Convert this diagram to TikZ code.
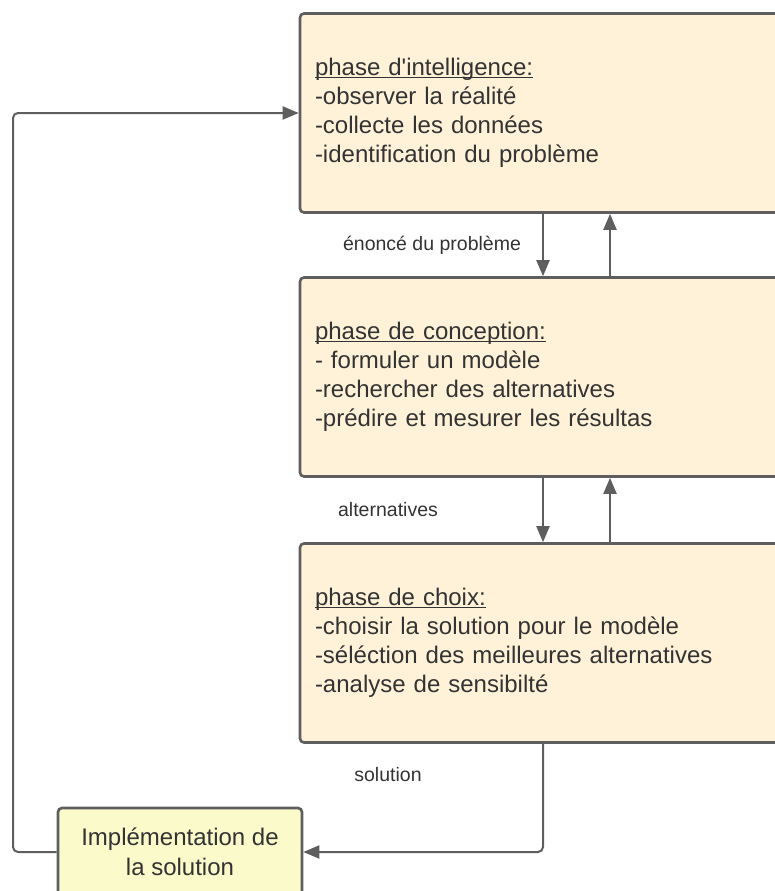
\documentclass[tikz,border=0pt]{standalone}
\usepackage{fontspec}
\setmainfont{Liberation Sans}
\usetikzlibrary{arrows.meta}

\definecolor{phasefill}{RGB}{255,242,217}
\definecolor{implfill}{RGB}{250,250,202}
\definecolor{trait}{RGB}{94,94,94}
\definecolor{texte}{RGB}{51,51,51}

\newsavebox{\titrebox}
\newcommand{\souligne}[1]{\sbox{\titrebox}{#1}\rlap{\rule[-2.5pt]{\wd\titrebox}{1.1pt}}\usebox{\titrebox}}

\begin{document}
\begin{tikzpicture}[x=1pt,y=-1pt,
    phase/.style={draw=trait,fill=phasefill,line width=2.6pt,rounded corners=4pt,
      text=texte,font=\fontsize{24}{29}\selectfont,align=left,
      text width=470pt,inner xsep=15pt,minimum height=199pt},
    impl/.style={draw=trait,fill=implfill,line width=2.6pt,rounded corners=4pt,
      text=texte,font=\fontsize{24}{30}\selectfont,align=center,
      minimum width=244pt,minimum height=88pt},
    etiquette/.style={text=texte,font=\fontsize{19.5}{23}\selectfont,inner sep=0pt},
    fleche/.style={draw=trait,line width=2pt,-{Triangle[length=16pt,width=13pt]}}]

      \useasboundingbox (0,0) rectangle (775,891);

      \begin{scope}[every node/.style={phase}]
        \node (intel)  at (550,113) {\souligne{phase d\textquotesingle intelligence:}\\-observer la réalité\\-collecte les données\\-identification du problème};
        \node (concep) at (550,377) {\souligne{phase de conception:}\\- formuler un modèle\\-rechercher des alternatives\\-prédire et mesurer les résultas};
        \node (choix)  at (550,643) {\souligne{phase de choix:}\\-choisir la solution pour le modèle\\-séléction des meilleures alternatives\\-analyse de sensibilté};
      \end{scope}

      \node[impl] (implem) at (180,852) {Implémentation de\\la solution};

      \coordinate (dn)   at (543,0);
      \coordinate (up)   at (610,0);
      \coordinate (bord) at (13,0);

      \draw[fleche] (intel.south -| dn) -- (concep.north -| dn);
      \draw[fleche] (concep.north -| up) -- (intel.south -| up);
      \draw[fleche] (concep.south -| dn) -- (choix.north -| dn);
      \draw[fleche] (choix.north -| up) -- (concep.south -| up);
      \draw[fleche,rounded corners=5pt] (choix.south -| dn) |- (implem.east);
      \draw[fleche,rounded corners=5pt] (implem.west) -| (bord |- intel.west) -- (intel.west);

      \begin{scope}[every node/.style={etiquette}]
        \node (enonce) at (432,245) {énoncé du problème};
        \node (alt)    at (388,510) {alternatives};
        \node (sol)    at (388,775) {solution};
      \end{scope}

    \end{tikzpicture}
\end{document}
